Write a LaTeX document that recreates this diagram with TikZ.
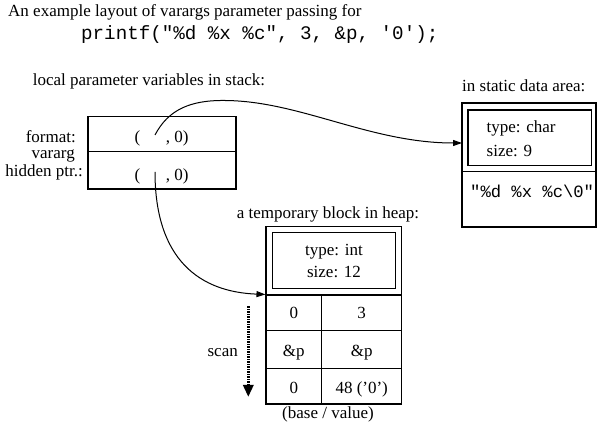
\documentclass[tikz,border=0pt]{standalone}
\usepackage{fontspec}
\setmainfont{Liberation Serif}
\setmonofont{Liberation Mono}
\usetikzlibrary{arrows.meta}
\begin{document}
\begin{tikzpicture}[x=1pt,y=-1pt,
  txt/.style={font=\fontsize{17}{20}\selectfont, inner sep=0pt},
  code/.style={font=\fontsize{19.2}{22}\selectfont\ttfamily, inner sep=0pt},
  scode/.style={font=\fontsize{17.2}{20}\selectfont\ttfamily, inner sep=0pt},
  box/.style={draw, line width=1.1pt, inner sep=0pt, rectangle},
  link/.style={line width=1pt, -{Triangle[length=9pt,width=6pt]}},
  scanline/.style={line width=3pt, dash pattern=on 1.5pt off 1pt, -{Triangle[length=12pt,width=10pt]}}]
\useasboundingbox (0,0) rectangle (597,427);
% title
\node[txt, anchor=base west] (title) at (8,17) {An example layout of varargs parameter passing for};
\node[code, anchor=base west] (call) at (81,40) {printf("\%d \%x \%c", 3, \&p, '0');};
% stack
\node[txt, anchor=base] (stacklbl) at (149,86) {local parameter variables in stack:};
\node[box, minimum width=148pt, minimum height=35pt] (fmt) at (162,134.2) {};
\node[box, minimum width=148pt, minimum height=37.3pt] (va) at (162,170.35) {};
\node[txt, anchor=base east] (fmtlbl) at (76,143) {format:};
\node[txt, anchor=base east] (valbl1) at (75,158.5) {vararg};
\node[txt, anchor=base east] (valbl2) at (83,176.5) {hidden ptr.:};
\node[txt, anchor=base] (fmtval) at (161.5,143) {(\hspace{1.5em}, 0)};
\node[txt, anchor=base] (vaval) at (161.5,181) {(\hspace{1.5em}, 0)};
\coordinate (fmtp) at (155,135);
\coordinate (vap) at (155,172);
% static data
\node[txt, anchor=base west] (statlbl) at (462,91.5) {in static data area:};
\node[box, minimum width=134pt, minimum height=124pt] (stat) at (529,165) {};
\node[box, minimum width=123.7pt, minimum height=55.7pt] (stathead) at (529.85,137.85) {};
\draw[line width=1.1pt] (stat.west |- 0,171.7) -- (stat.east |- 0,171.7);
\node[txt, anchor=base west] (stype) at (486.5,133) {type: char};
\node[txt, anchor=base west] (ssize) at (486.5,156.5) {size: 9};
\node[scode, anchor=base west] (sstr) at (470,197.5) {"\%d \%x \%c\textbackslash 0"};
\coordinate (statin) at (462,143);
% heap
\node[txt, anchor=base] (heaplbl) at (328,219) {a temporary block in heap:};
\node[box, minimum width=135.7pt, minimum height=68.3pt] (heap) at (333.85,260.85) {};
\node[box, minimum width=123.4pt, minimum height=55.6pt] (heaphead) at (334,260.5) {};
\node[txt, anchor=base] (htype) at (334,255.5) {type: int};
\node[txt, anchor=base] (hsize) at (334,277.3) {size: 12};
\node[box, minimum width=55.7pt, minimum height=35.7pt] (a1) at (293.85,312.85) {};
\node[box, minimum width=80pt, minimum height=35.7pt] (b1) at (361.7,312.85) {};
\node[box, minimum width=55.7pt, minimum height=37.6pt] (a2) at (293.85,349.5) {};
\node[box, minimum width=80pt, minimum height=37.6pt] (b2) at (361.7,349.5) {};
\node[box, minimum width=55.7pt, minimum height=35.7pt] (a3) at (293.85,386.15) {};
\node[box, minimum width=80pt, minimum height=35.7pt] (b3) at (361.7,386.15) {};
\node[txt, anchor=base] (a1t) at (a1.center |- 0,318.3) {0};
\node[txt, anchor=base] (b1t) at (b1.center |- 0,318.3) {3};
\node[txt, anchor=base] (a2t) at (a2.center |- 0,356.3) {\&p};
\node[txt, anchor=base] (b2t) at (b2.center |- 0,356.3) {\&p};
\node[txt, anchor=base] (a3t) at (a3.center |- 0,393.3) {0};
\node[txt, anchor=base] (b3t) at (b3.center |- 0,393.3) {48 ('0')};
\node[txt, anchor=base] (bv) at (328,418) {(base / value)};
% scan
\node[txt, anchor=base east] (scanlbl) at (238,356.5) {scan};
\coordinate (scantop) at (248.3,306.5);
\coordinate (scanbot) at (248.3,397);
\draw[scanline] (scantop) -- (scanbot);
% connectors
\draw[link] (fmtp) .. controls (168,110) and (190,100) .. (225,100.5)
  .. controls (300,101) and (370,143) .. (statin);
\draw[link] (vap) .. controls (155,260) and (200,292) .. (a1.north west);
\end{tikzpicture}
\end{document}
